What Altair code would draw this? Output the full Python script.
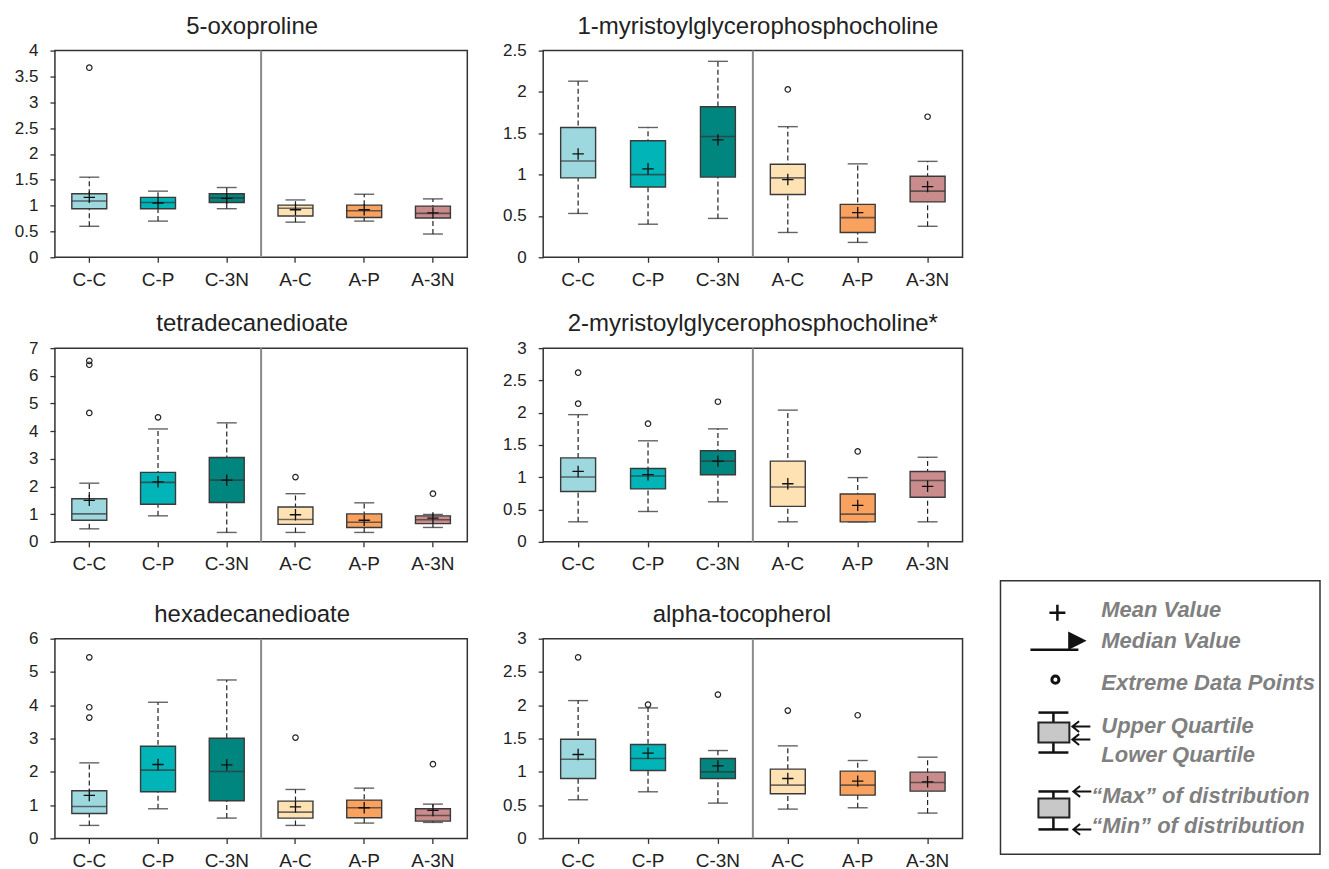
import altair as alt
import pandas as pd

groups = ["C-C", "C-P", "C-3N", "A-C", "A-P", "A-3N"]
colors = ["#9dd8df", "#00b4b8", "#00857f", "#ffe2b4", "#f9a15f", "#c98b8b"]

# ---- panel data: whisker low, Q1, median, Q3, whisker high, mean, outliers ----
p1_name = "5-oxoproline"
p1_lo = [0.60, 0.70, 0.94, 0.68, 0.70, 0.45]
p1_q1 = [0.94, 0.94, 1.06, 0.80, 0.77, 0.76]
p1_med = [1.09, 1.06, 1.15, 0.95, 0.90, 0.85]
p1_q3 = [1.23, 1.16, 1.23, 1.01, 1.01, 0.99]
p1_hi = [1.55, 1.28, 1.35, 1.11, 1.22, 1.13]
p1_mean = [1.16, 1.05, 1.14, 0.92, 0.92, 0.86]
p1_out_g = ["C-C"]
p1_out_v = [3.67]
p1_ticks = [0, 0.5, 1, 1.5, 2, 2.5, 3, 3.5, 4]

p2_name = "1-myristoylglycerophosphocholine"
p2_lo = [0.53, 0.40, 0.47, 0.30, 0.18, 0.375]
p2_q1 = [0.96, 0.85, 0.97, 0.76, 0.30, 0.67]
p2_med = [1.165, 1.00, 1.46, 0.96, 0.48, 0.80]
p2_q3 = [1.57, 1.41, 1.82, 1.125, 0.64, 0.98]
p2_hi = [2.13, 1.57, 2.37, 1.58, 1.13, 1.16]
p2_mean = [1.25, 1.07, 1.42, 0.94, 0.54, 0.855]
p2_out_g = ["A-C", "A-3N"]
p2_out_v = [2.03, 1.70]
p2_ticks = [0, 0.5, 1, 1.5, 2, 2.5]

p3_name = "tetradecanedioate"
p3_lo = [0.47, 0.94, 0.34, 0.34, 0.34, 0.52]
p3_q1 = [0.78, 1.36, 1.42, 0.63, 0.52, 0.66]
p3_med = [1.01, 2.15, 2.23, 0.81, 0.71, 0.80]
p3_q3 = [1.56, 2.51, 3.05, 1.26, 1.01, 0.94]
p3_hi = [2.12, 4.08, 4.30, 1.74, 1.41, 0.99]
p3_mean = [1.50, 2.17, 2.23, 0.98, 0.78, 0.86]
p3_out_g = ["C-C", "C-C", "C-C", "C-P", "A-C", "A-3N"]
p3_out_v = [6.54, 6.40, 4.66, 4.50, 2.34, 1.74]
p3_ticks = [0, 1, 2, 3, 4, 5, 6, 7]

p4_name = "2-myristoylglycerophosphocholine*"
p4_lo = [0.31, 0.47, 0.62, 0.31, 0.31, 0.31]
p4_q1 = [0.78, 0.82, 1.04, 0.55, 0.31, 0.69]
p4_med = [1.005, 1.02, 1.25, 0.85, 0.43, 0.95]
p4_q3 = [1.30, 1.135, 1.41, 1.25, 0.74, 1.09]
p4_hi = [1.97, 1.565, 1.75, 2.04, 0.995, 1.31]
p4_mean = [1.09, 1.04, 1.25, 0.90, 0.565, 0.86]
p4_out_g = ["C-C", "C-C", "C-P", "C-3N", "A-P"]
p4_out_v = [2.62, 2.14, 1.83, 2.17, 1.40]
p4_ticks = [0, 0.5, 1, 1.5, 2, 2.5, 3]

p5_name = "hexadecanedioate"
p5_lo = [0.39, 0.89, 0.61, 0.39, 0.46, 0.48]
p5_q1 = [0.75, 1.40, 1.13, 0.61, 0.62, 0.52]
p5_med = [0.96, 2.05, 2.01, 0.79, 0.92, 0.69]
p5_q3 = [1.43, 2.77, 3.01, 1.12, 1.15, 0.89]
p5_hi = [2.27, 4.09, 4.76, 1.47, 1.51, 1.03]
p5_mean = [1.29, 2.22, 2.21, 0.95, 0.92, 0.84]
p5_out_g = ["C-C", "C-C", "C-C", "A-C", "A-3N"]
p5_out_v = [5.44, 3.94, 3.63, 3.03, 2.23]
p5_ticks = [0, 1, 2, 3, 4, 5, 6]

p6_name = "alpha-tocopherol"
p6_lo = [0.58, 0.70, 0.53, 0.44, 0.46, 0.38]
p6_q1 = [0.90, 1.02, 0.90, 0.67, 0.65, 0.71]
p6_med = [1.19, 1.20, 1.00, 0.80, 0.80, 0.84]
p6_q3 = [1.49, 1.41, 1.20, 1.04, 1.01, 0.995]
p6_hi = [2.07, 1.96, 1.32, 1.39, 1.17, 1.22]
p6_mean = [1.26, 1.28, 1.09, 0.90, 0.86, 0.85]
p6_out_g = ["C-C", "C-P", "C-3N", "A-C", "A-P"]
p6_out_v = [2.72, 2.01, 2.16, 1.92, 1.85]
p6_ticks = [0, 0.5, 1, 1.5, 2, 2.5, 3]

# legend texts
leg_texts = ["Mean Value", "Median Value", "Extreme Data Points", "Upper Quartile",
             "Lower Quartile", "\u201cMax\u201d of distribution", "\u201cMin\u201d of distribution"]

FONT = "Liberation Sans"
PLUS = "M-1,0H1M0,-1V1"
ARROW = "M1,0L-1,0M-0.25,-0.6L-1,0L-0.25,0.6"


def panel(name, lo, q1, med, q3, hi, mean, out_g, out_v, ticks, width, height, dx):
    df = pd.DataFrame({"group": groups, "lo": lo, "q1": q1, "med": med,
                       "q3": q3, "hi": hi, "mean": mean})
    od = pd.DataFrame({"group": out_g, "v": out_v})
    ymax = ticks[-1]
    xax = alt.Axis(title=None, labelAngle=0, labelFontSize=19, labelFont=FONT,
                   labelColor="#222", domain=False, tickSize=5, tickColor="#333",
                   tickWidth=1.3, labelPadding=8, grid=False)
    xsc = alt.Scale(domain=groups, paddingInner=0, paddingOuter=0)
    x = alt.X("group:N", sort=groups, axis=xax, scale=xsc)
    ysc = alt.Scale(domain=[0, ymax], nice=False, zero=True)
    yax = alt.Axis(title=None, values=ticks, format="~g", labelFontSize=17,
                   labelFont=FONT, labelColor="#222", domain=False, tickSize=5,
                   tickColor="#333", tickWidth=1.3, labelPadding=12, grid=False,
                   labelOverlap=False)

    def Y(f):
        return alt.Y(f, scale=ysc, axis=yax, title=None)

    base = alt.Chart(df)
    whisk = base.mark_rule(color="#222", strokeWidth=1.2, strokeDash=[5, 3]).encode(
        x=x, y=Y("lo:Q"), y2="hi:Q")
    cap_lo = base.mark_tick(color="#222", size=20, thickness=1.4).encode(x=x, y=Y("lo:Q"))
    cap_hi = base.mark_tick(color="#222", size=20, thickness=1.4).encode(x=x, y=Y("hi:Q"))
    box = base.mark_bar(size=35, stroke="#3a3a3a", strokeWidth=1.4).encode(
        x=x, y=Y("q1:Q"), y2="q3:Q",
        color=alt.Color("group:N", scale=alt.Scale(domain=groups, range=colors), legend=None))
    median = base.mark_tick(color="#333", size=35, thickness=1.6).encode(x=x, y=Y("med:Q"))
    meanm = base.mark_point(shape=PLUS, size=130, color="#111", strokeWidth=1.3,
                            filled=False, opacity=1).encode(x=x, y=Y("mean:Q"))
    outs = alt.Chart(od).mark_point(shape="circle", size=30, color="#222",
                                    strokeWidth=1.2, filled=False, opacity=1).encode(
        x=x, y=Y("v:Q"))
    div = alt.Chart(pd.DataFrame({"group": ["A-C"]})).mark_rule(
        color="#8a8a8a", strokeWidth=2).encode(
        x=alt.X("group:N", sort=groups, axis=xax, bandPosition=0, scale=xsc),
        y=alt.YDatum(0, scale=ysc, axis=yax, title=None), y2=alt.datum(ymax))
    return alt.layer(div, whisk, cap_lo, cap_hi, box, median, meanm, outs).properties(
        width=width, height=height,
        title=alt.TitleParams(name, fontSize=24, font=FONT, fontWeight="normal",
                              color="#222", anchor="middle", frame="group",
                              offset=3, dx=dx))


W1, W2 = 413, 420
H1, H2, H3 = 207, 194, 200

c1 = alt.vconcat(
    panel(p1_name, p1_lo, p1_q1, p1_med, p1_q3, p1_hi, p1_mean, p1_out_g, p1_out_v, p1_ticks, W1, H1, -9),
    alt.vconcat(
        panel(p3_name, p3_lo, p3_q1, p3_med, p3_q3, p3_hi, p3_mean, p3_out_g, p3_out_v, p3_ticks, W1, H2, -9),
        panel(p5_name, p5_lo, p5_q1, p5_med, p5_q3, p5_hi, p5_mean, p5_out_g, p5_out_v, p5_ticks, W1, H3, -9),
        spacing=27),
    spacing=21)
c2 = alt.vconcat(
    panel(p2_name, p2_lo, p2_q1, p2_med, p2_q3, p2_hi, p2_mean, p2_out_g, p2_out_v, p2_ticks, W2, H1, 5),
    alt.vconcat(
        panel(p4_name, p4_lo, p4_q1, p4_med, p4_q3, p4_hi, p4_mean, p4_out_g, p4_out_v, p4_ticks, W2, H2, 0),
        panel(p6_name, p6_lo, p6_q1, p6_med, p6_q3, p6_hi, p6_mean, p6_out_g, p6_out_v, p6_ticks, W2, H3, -11),
        spacing=27),
    spacing=21)

# ---- legend panel (drawn in page-like pixel coordinates) ----
L, T = 996, 50
WL, HL = 325, 805
lx = alt.Scale(domain=[L, L + WL])
ly = alt.Scale(domain=[T, T + HL], reverse=True)


def LX(f):
    return alt.X(f, scale=lx, axis=None)


def LY(f):
    return alt.Y(f, scale=ly, axis=None)


frame = alt.Chart(pd.DataFrame({"x": [1000], "x2": [1320], "y": [581], "y2": [855]})).mark_rect(
    fill="white", stroke="#333", strokeWidth=1.5).encode(
    x=LX("x:Q"), x2="x2:Q", y=LY("y:Q"), y2="y2:Q")

rules_df = pd.DataFrame({
    "x": [1030, 1053, 1038, 1038, 1053, 1038, 1038],
    "x2": [1078, 1053, 1068, 1068, 1053, 1068, 1068],
    "y": [650, 713, 713, 753, 792, 792, 830],
    "y2": [650, 753, 713, 753, 830, 792, 830],
})
lrules = alt.Chart(rules_df).mark_rule(color="#111", strokeWidth=2.5).encode(
    x=LX("x:Q"), x2="x2:Q", y=LY("y:Q"), y2="y2:Q")
lrects = alt.Chart(pd.DataFrame({"x": [1038, 1038], "x2": [1069, 1069],
                                 "y": [723, 799], "y2": [743, 818]})).mark_rect(
    fill="#c8c8c8", stroke="#222", strokeWidth=2).encode(
    x=LX("x:Q"), x2="x2:Q", y=LY("y:Q"), y2="y2:Q")
lplus = alt.Chart(pd.DataFrame({"x": [1057], "y": [613]})).mark_point(
    shape=PLUS, size=256, color="#111", strokeWidth=2.5, filled=False, opacity=1).encode(
    x=LX("x:Q"), y=LY("y:Q"))
ltri = alt.Chart(pd.DataFrame({"x": [1077], "y": [641]})).mark_point(
    shape="M-1,-1L1,0L-1,1Z", size=340, color="#111", filled=True, opacity=1).encode(
    x=LX("x:Q"), y=LY("y:Q"))
lcirc = alt.Chart(pd.DataFrame({"x": [1055], "y": [680]})).mark_point(
    shape="circle", size=50, color="#111", strokeWidth=3, filled=False, opacity=1).encode(
    x=LX("x:Q"), y=LY("y:Q"))
larrow = alt.Chart(pd.DataFrame({"x": [1081, 1081, 1082, 1082], "y": [727, 740, 792, 830]})).mark_point(
    shape=ARROW, size=324, color="#111", strokeWidth=2, filled=False, opacity=1).encode(
    x=LX("x:Q"), y=LY("y:Q"))
ltext = alt.Chart(pd.DataFrame({"t": leg_texts,
                                "x": [1101, 1101, 1101, 1101, 1101, 1091, 1091],
                                "y": [610, 641, 683, 726, 755, 797, 827]})).mark_text(
    align="left", baseline="middle", font=FONT, fontSize=22, fontWeight="bold",
    fontStyle="italic", color="#808080").encode(
    x=LX("x:Q"), y=LY("y:Q"), text="t:N")

legend = alt.layer(frame, lrules, lrects, lplus, ltri, lcirc, larrow, ltext).properties(
    width=WL, height=HL, view=alt.ViewBackground(stroke=None))

chart = alt.hconcat(c1, c2, legend, spacing=33).properties(
    padding={"left": 5, "top": 5, "right": 0, "bottom": 0}
).configure_view(stroke="#333", strokeWidth=1.5)

chart.save("out.html", embed_options={"renderer": "svg", "actions": False})
